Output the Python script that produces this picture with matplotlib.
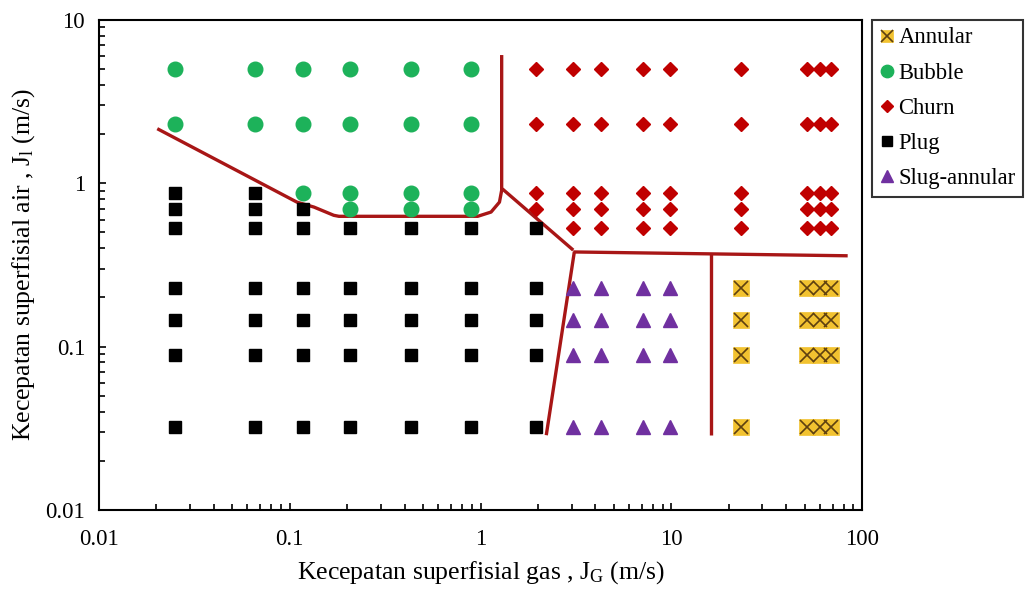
import matplotlib
matplotlib.use("Agg")
import matplotlib.pyplot as plt
from matplotlib.ticker import LogLocator, NullFormatter, FixedLocator, FixedFormatter
from matplotlib.legend_handler import HandlerTuple

plt.rcParams['font.family'] = ['Liberation Serif', 'DejaVu Serif']
plt.rcParams['mathtext.fontset'] = 'custom'
plt.rcParams['mathtext.rm'] = 'Liberation Serif'
plt.rcParams['mathtext.it'] = 'Liberation Serif'

# ---- data (m/s) ----
jl_rows_lo = [0.23, 0.1455, 0.089, 0.0321]

bubble_x = [0.025, 0.066, 0.117, 0.208, 0.43, 0.89,
            0.025, 0.066, 0.117, 0.208, 0.43, 0.89,
            0.117, 0.208, 0.43, 0.89,
            0.208, 0.43, 0.89]
bubble_y = [5.0] * 6 + [2.3] * 6 + [0.876] * 4 + [0.693] * 3

plug_x = ([0.025, 0.066] * 3 + [0.117, 0.117] +
          [0.208, 0.43, 0.89, 1.96] +
          [0.025, 0.066, 0.117, 0.208, 0.43, 0.89, 1.96] * 4)
plug_y = ([0.876, 0.876, 0.693, 0.693, 0.53, 0.53] + [0.693, 0.53] +
          [0.53] * 4 +
          [0.23] * 7 + [0.1455] * 7 + [0.089] * 7 + [0.0321] * 7)

churn_cols_all = [3.06, 4.27, 7.14, 9.86, 23.3, 51.2, 60.3, 68.5]
churn_x = [1.96] * 4 + [c for c in churn_cols_all for _ in range(5)]
churn_y = [5.0, 2.3, 0.876, 0.693] + [v for _ in churn_cols_all for v in [5.0, 2.3, 0.876, 0.693, 0.53]]

slug_cols = [3.06, 4.27, 7.14, 9.86]
slug_x = [c for c in slug_cols for _ in jl_rows_lo]
slug_y = [v for _ in slug_cols for v in jl_rows_lo]

annular_cols = [23.3, 51.2, 60.3, 68.5]
annular_x = [c for c in annular_cols for _ in jl_rows_lo]
annular_y = [v for _ in annular_cols for v in jl_rows_lo]

# ---- transition boundaries ----
b1_x = [0.0202, 0.109, 0.134, 0.170, 0.181, 0.966, 1.135, 1.256, 1.29, 1.29]
b1_y = [2.16, 0.767, 0.715, 0.637, 0.628, 0.628, 0.667, 0.767, 0.906, 6.1]
b2_x = [1.30, 3.06]
b2_y = [0.925, 0.39]
b3_x = [3.06, 84.0]
b3_y = [0.38, 0.36]
b4_x = [16.2, 16.2]
b4_y = [0.372, 0.0287]
b5_x = [3.1, 2.21]
b5_y = [0.38, 0.0287]

fig = plt.figure(figsize=(10.25, 5.93), dpi=100)
ax = fig.add_axes([0.0966, 0.14, 0.7445, 0.8263])

line_c = '#A81616'
lw = 2.4
for bx, by in [(b1_x, b1_y), (b2_x, b2_y), (b3_x, b3_y), (b4_x, b4_y), (b5_x, b5_y)]:
    ax.plot(bx, by, color=line_c, lw=lw, solid_capstyle='butt', zorder=2)

h_sq, = ax.plot(annular_x, annular_y, ls='none', marker='s', ms=11, mfc='#F2C230',
                mec='#F2C230', mew=0.5, zorder=3)
h_x, = ax.plot(annular_x, annular_y, ls='none', marker='x', ms=10, mec='#5E4010',
               mew=1.2, zorder=4)
h_b, = ax.plot(bubble_x, bubble_y, ls='none', marker='o', ms=10.5, mfc='#1DB25A',
               mec='#1DB25A', zorder=3)
h_c, = ax.plot(churn_x, churn_y, ls='none', marker='D', ms=7, mfc='#C00000',
               mec='#C00000', zorder=3)
h_p, = ax.plot(plug_x, plug_y, ls='none', marker='s', ms=9, mfc='black',
               mec='black', zorder=3)
h_s, = ax.plot(slug_x, slug_y, ls='none', marker='^', ms=9.5, mfc='#7030A0',
               mec='#7030A0', zorder=3)

ax.set_xscale('log')
ax.set_yscale('log')
ax.set_xlim(0.01, 100)
ax.set_ylim(0.01, 10)

x_ticks = [0.01, 0.1, 1, 10, 100]
x_labels = ['0.01', '0.1', '1', '10', '100']
y_ticks = [0.01, 0.1, 1, 10]
y_labels = ['0.01', '0.1', '1', '10']
ax.xaxis.set_major_locator(FixedLocator(x_ticks))
ax.xaxis.set_major_formatter(FixedFormatter(x_labels))
ax.yaxis.set_major_locator(FixedLocator(y_ticks))
ax.yaxis.set_major_formatter(FixedFormatter(y_labels))
ax.xaxis.set_minor_locator(LogLocator(base=10, subs=range(2, 10), numticks=20))
ax.yaxis.set_minor_locator(LogLocator(base=10, subs=range(2, 10), numticks=20))
ax.xaxis.set_minor_formatter(NullFormatter())
ax.yaxis.set_minor_formatter(NullFormatter())
ax.tick_params(which='both', direction='in', top=False, right=False,
               labelsize=16.5, color='black', width=1.2)
ax.tick_params(which='major', length=5)
ax.tick_params(axis='x', which='major', pad=14)
ax.tick_params(axis='y', which='major', pad=10)
ax.tick_params(which='minor', length=4)
for s in ax.spines.values():
    s.set_linewidth(1.5)
    s.set_color('black')

ax.set_xlabel('Kecepatan superfisial gas , J$_\\mathregular{G}$ (m/s)', fontsize=18.5, labelpad=6)
ax.set_ylabel('Kecepatan superfisial air , J$_\\mathregular{l}$ (m/s)', fontsize=18.5, labelpad=6)

leg = fig.legend([(h_sq, h_x), h_b, h_c, h_p, h_s],
                 ['Annular', 'Bubble', 'Churn', 'Plug', 'Slug-annular'],
                 handler_map={tuple: HandlerTuple(ndivide=1, pad=0)},
                 loc='upper left', bbox_to_anchor=(0.851, 0.967),
                 fontsize=16.3, frameon=True, fancybox=False, edgecolor='black',
                 handlelength=0.6, handletextpad=0.2, labelspacing=0.62,
                 borderpad=0.35, borderaxespad=0, markerscale=0.85)
leg.get_frame().set_linewidth(1.5)

fig.savefig('out.png', dpi=100, facecolor='white')
